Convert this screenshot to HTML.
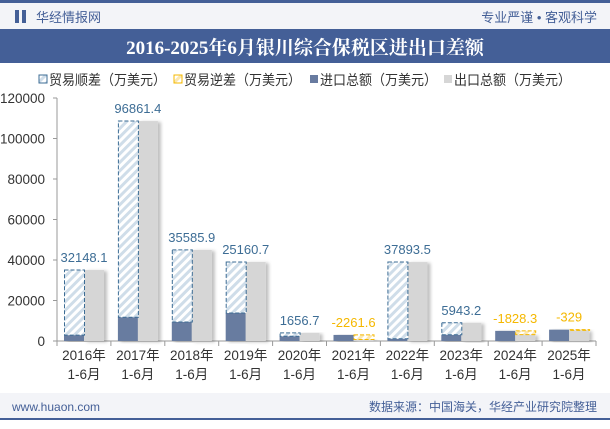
<!DOCTYPE html>
<html><head><meta charset="utf-8"><style>
body{margin:0;width:610px;height:424px;overflow:hidden;background:#fff;font-family:"Liberation Sans","Noto Sans CJK SC",sans-serif}
</style></head><body>
<svg id="c" width="610" height="424" xmlns="http://www.w3.org/2000/svg">
<defs>
<pattern id="hb" patternUnits="userSpaceOnUse" width="6" height="6" patternTransform="rotate(45)"><rect width="6" height="6" fill="#fff"/><rect width="3" height="6" fill="#cfdde9"/></pattern>
<pattern id="hy" patternUnits="userSpaceOnUse" width="6" height="6" patternTransform="rotate(45)"><rect width="6" height="6" fill="#fff"/><rect width="3" height="6" fill="#fbe7b0"/></pattern>
<filter id="sh" x="-20%" y="-10%" width="150%" height="120%"><feDropShadow dx="3" dy="1" stdDeviation="1.5" flood-color="#000" flood-opacity="0.25"/></filter>
</defs>
<rect x="0" y="0" width="610" height="3" fill="#445f97"/>
<rect x="0" y="3" width="610" height="26" fill="#f3f4f8"/>
<rect x="15" y="10" width="4" height="13" fill="#445f97"/><rect x="22" y="10" width="4" height="13" fill="#445f97"/>
<text x="36" y="22" font-size="13" fill="#445f97">华经情报网</text>
<text x="597" y="22" font-size="13" fill="#445f97" text-anchor="end">专业严谨 • 客观科学</text>
<rect x="0" y="29" width="610" height="34" fill="#445f97"/>
<text x="305" y="54" font-size="19" font-weight="bold" fill="#fff" text-anchor="middle" font-family="'Liberation Serif','Noto Serif CJK SC',serif">2016-2025年6月银川综合保税区进出口差额</text>
<g font-size="14" fill="#333">
<g><rect x="39" y="75" width="8" height="8" fill="url(#hb)" stroke="#3d6d95"/><text x="49" y="85" textLength="117" lengthAdjust="spacingAndGlyphs">贸易顺差（万美元）</text></g>
<g><rect x="174" y="75" width="8" height="8" fill="url(#hy)" stroke="#f5b800"/><text x="184" y="85" textLength="117" lengthAdjust="spacingAndGlyphs">贸易逆差（万美元）</text></g>
<g><rect x="310" y="75" width="8" height="8" fill="#687ba0"/><text x="320" y="85" textLength="117" lengthAdjust="spacingAndGlyphs">进口总额（万美元）</text></g>
<g><rect x="444" y="75" width="8" height="8" fill="#d6d6d6"/><text x="454" y="85" textLength="117" lengthAdjust="spacingAndGlyphs">出口总额（万美元）</text></g>
</g>
<g id="plot"></g>
<rect x="0" y="393" width="610" height="25" fill="#f3f4f8"/>
<rect x="0" y="418" width="610" height="2" fill="#445f97"/>
<text x="12" y="411" font-size="12" fill="#445f97">www.huaon.com</text>
<text x="597" y="411" font-size="12" fill="#445f97" text-anchor="end">数据来源：中国海关，华经产业研究院整理</text>
</svg>
<script>
const categories=["2016年","2017年","2018年","2019年","2020年","2021年","2022年","2023年","2024年","2025年"];
const imports=[2900,11750,9400,13850,2350,3000,1100,3060,5000,5600];
const exports=[35048.1,108611.4,44985.9,39010.7,4006.7,738.4,38993.5,9003.2,3171.7,5271];
const balance=[32148.1,96861.4,35585.9,25160.7,1656.7,-2261.6,37893.5,5943.2,-1828.3,-329];
const yTicks=[0,20000,40000,60000,80000,100000,120000];
const NS="http://www.w3.org/2000/svg";
const g=document.getElementById('plot');
const x0=57,x1=596,y0=341,yTop=98,yMax=120000;
const band=(x1-x0)/categories.length;
const Y=v=>y0-(v/yMax)*(y0-yTop);
const X=i=>x0+i*band;
function mk(t,a,p){const e=document.createElementNS(NS,t);for(const k in a)e.setAttribute(k,a[k]);(p||g).appendChild(e);return e;}
yTicks.forEach(v=>{
 const t=mk('text',{x:x0-12,y:Y(v)+5,'font-size':13.5,fill:'#333','text-anchor':'end'});t.textContent=v;
 
 
 mk('line',{x1:x0-4,x2:x0,y1:Y(v),y2:Y(v),stroke:'#999'});
});
mk('line',{x1:x0,x2:x0,y1:yTop,y2:y0,stroke:'#999'});
mk('line',{x1:x0,x2:x1,y1:y0,y2:y0,stroke:'#999'});
const bw=20;
categories.forEach((c,i)=>{
 const bx=X(i)+7;
 mk('line',{x1:X(i),x2:X(i),y1:y0,y2:y0+5,stroke:'#999'});
 if(i==categories.length-1)mk('line',{x1:x1,x2:x1,y1:y0,y2:y0+5,stroke:'#999'});
 const im=mk('rect',{x:bx,y:Y(imports[i]),width:bw,height:y0-Y(imports[i]),fill:'#687ba0',filter:'url(#sh)'});
 
 
 const ex=mk('rect',{x:bx+bw,y:Y(exports[i]),width:bw,height:y0-Y(exports[i]),fill:'#d6d6d6',filter:'url(#sh)'});
 
 
 const b=balance[i];let hb,top;
 if(b>=0){top=Y(imports[i]+b);hb=mk('rect',{x:bx+0.5,y:top,width:bw,height:Y(imports[i])-top,fill:'url(#hb)',stroke:'#3d6d95','stroke-dasharray':'4,2'});}
 else{top=Y(exports[i]-b);hb=mk('rect',{x:bx+bw+0.5,y:top,width:bw,height:Y(exports[i])-top,fill:'url(#hy)',stroke:'#f5b800','stroke-dasharray':'4,2'});}
 
 
 const lbl=mk('text',{x:bx+bw,y:top-8,'font-size':13,fill:b>=0?'#3d6d95':'#f5b800','text-anchor':'middle'});lbl.textContent=b;
 
 
 const cx=X(i)+band/2;
 const t1=mk('text',{x:cx,y:y0+19,'font-size':13.5,fill:'#333','text-anchor':'middle'});t1.textContent=c;
 
 
 const t2=mk('text',{x:cx,y:y0+38,'font-size':13.5,fill:'#333','text-anchor':'middle'});t2.textContent='1-6月';
 
 
});
</script>
</body></html>
